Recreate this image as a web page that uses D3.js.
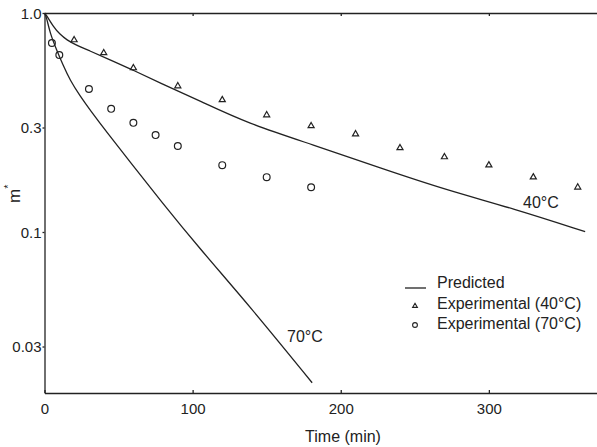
<!DOCTYPE html>
<html>
<head>
<meta charset="utf-8">
<script src="https://cdn.jsdelivr.net/npm/d3@7"></script>
<style>
  body { margin: 0; background: #fff; }
  svg text { font-family: "Liberation Sans", Arial, sans-serif; fill: #222; }
</style>
</head>
<body>
<div class="chart"></div>
<script>
// DATA ------------------------------------
const exp40Time = [20, 40, 60, 90, 120, 150, 180, 210, 240, 270, 300, 330, 360]
const exp40Val = [0.753, 0.657, 0.561, 0.464, 0.401, 0.342, 0.305, 0.280, 0.242, 0.220, 0.202, 0.178, 0.160]

const exp70Time = [5, 10, 30, 45, 60, 75, 90, 120, 150, 180]
const exp70Val = [0.730, 0.643, 0.450, 0.365, 0.315, 0.277, 0.247, 0.202, 0.178, 0.160]

const pred40Time = [0, 1.7, 5.7, 10.5, 15.2, 20.6, 30.7, 40.9, 59.8, 78, 105, 136.8, 181.4, 226.7, 272, 316.6, 365]
const pred40Val = [1.0, 0.969, 0.872, 0.797, 0.753, 0.718, 0.671, 0.626, 0.549, 0.479, 0.397, 0.314, 0.250, 0.196, 0.155, 0.128, 0.1003]

const pred70Time = [0, 1.5, 3.7, 8.2, 12.5, 17.2, 24, 30.7, 43, 57.8, 78, 105, 139, 180.7]
const pred70Val = [1.0, 0.949, 0.810, 0.678, 0.579, 0.494, 0.418, 0.361, 0.280, 0.209, 0.140, 0.0836, 0.0455, 0.0205]

const xTicks = [0, 100, 200, 300]
const yTicks = [1.0, 0.3, 0.1, 0.03]
const yTickLabels = ['1.0', '0.3', '0.1', '0.03']

const legendLabels = ['Predicted', 'Experimental (40\u00B0C)', 'Experimental (70\u00B0C)']

// CHART INIT ------------------------------
const W = 597, H = 447
const plot = { left: 44.5, right: 597, top: 13, bottom: 393 }
const ink = '#222'

const svg = d3.select('.chart')
    .append('svg')
    .attr('width', W)
    .attr('height', H)

const xScale = d3.scaleLinear()
    .domain([0, 373])
    .range([plot.left, plot.right])

const yScale = d3.scaleLog()
    .domain([0.0184, 1])
    .range([plot.bottom, plot.top])

// axes
const xAxis = d3.axisBottom(xScale)
    .tickValues(xTicks)
    .tickFormat(d3.format('d'))
    .tickSizeInner(-3)
    .tickSizeOuter(0)
    .tickPadding(10)

const yAxis = d3.axisLeft(yScale)
    .tickValues(yTicks)
    .tickFormat((d, i) => yTickLabels[i])
    .tickSizeInner(2)
    .tickSizeOuter(0)
    .tickPadding(1)

const topAxis = d3.axisTop(xScale)
    .tickValues(xTicks.slice(1))
    .tickFormat('')
    .tickSizeInner(-3)
    .tickSizeOuter(0)

svg.append('g')
    .attr('class', 'axis x-axis')
    .attr('transform', `translate(0, ${plot.bottom})`)
    .call(xAxis)

svg.append('g')
    .attr('class', 'axis top-axis')
    .attr('transform', `translate(0, ${plot.top})`)
    .call(topAxis)

svg.append('g')
    .attr('class', 'axis y-axis')
    .attr('transform', `translate(${plot.left}, 0)`)
    .call(yAxis)

svg.selectAll('.axis path, .axis line')
    .attr('stroke', ink)
    .attr('stroke-width', 1.3)

svg.selectAll('.axis text')
    .attr('fill', ink)
    .style('font-size', '15px')

svg.selectAll('.y-axis text').attr('dy', '0.36em')

// axis titles
svg.append('text')
    .attr('x', 343)
    .attr('y', 442)
    .attr('text-anchor', 'middle')
    .style('font-size', '16px')
    .text('Time (min)')

const yLabel = svg.append('text')
    .attr('transform', 'translate(20, 203) rotate(-90)')
    .style('font-size', '17px')
yLabel.append('tspan').text('m')
yLabel.append('tspan')
    .attr('dy', -8)
    .style('font-size', '11px')
    .text('*')

// predicted lines
const line = d3.line()
    .x(d => xScale(d[0]))
    .y(d => yScale(d[1]))
    .curve(d3.curveBasis)

const pred40 = pred40Time.map((t, i) => [t, pred40Val[i]])
const pred70 = pred70Time.map((t, i) => [t, pred70Val[i]])

svg.selectAll('.pred')
    .data([pred40, pred70])
    .enter()
    .append('path')
    .attr('class', 'pred')
    .attr('d', line)
    .attr('fill', 'none')
    .attr('stroke', ink)
    .attr('stroke-width', 1.3)

// experimental points
const tri = d3.symbol().type(d3.symbolTriangle).size(16)

svg.selectAll('.tri')
    .data(exp40Time.map((t, i) => [t, exp40Val[i]]))
    .enter()
    .append('path')
    .attr('class', 'tri')
    .attr('d', tri)
    .attr('transform', d => `translate(${xScale(d[0])}, ${yScale(d[1])})`)
    .attr('fill', 'none')
    .attr('stroke', ink)
    .attr('stroke-width', 1.2)

svg.selectAll('.circ')
    .data(exp70Time.map((t, i) => [t, exp70Val[i]]))
    .enter()
    .append('circle')
    .attr('class', 'circ')
    .attr('cx', d => xScale(d[0]))
    .attr('cy', d => yScale(d[1]))
    .attr('r', 3.4)
    .attr('fill', 'none')
    .attr('stroke', ink)
    .attr('stroke-width', 1.2)

// curve labels
svg.append('text')
    .attr('x', 523)
    .attr('y', 208)
    .style('font-size', '16px')
    .text('40\u00B0C')

svg.append('text')
    .attr('x', 287)
    .attr('y', 342)
    .style('font-size', '16px')
    .text('70\u00B0C')

// LEGEND ----------------------------------
const legend = svg.append('g')

legend.append('line')
    .attr('x1', 405).attr('x2', 426)
    .attr('y1', 288).attr('y2', 288)
    .attr('stroke', ink)
    .attr('stroke-width', 1.3)

legend.append('path')
    .attr('d', d3.symbol().type(d3.symbolTriangle).size(10))
    .attr('transform', 'translate(415, 306)')
    .attr('fill', 'none')
    .attr('stroke', ink)
    .attr('stroke-width', 1.1)

legend.append('circle')
    .attr('cx', 415).attr('cy', 325)
    .attr('r', 2.4)
    .attr('fill', 'none')
    .attr('stroke', ink)
    .attr('stroke-width', 1.1)

legend.selectAll('.leg-text')
    .data(legendLabels)
    .enter()
    .append('text')
    .attr('class', 'leg-text')
    .attr('x', 437)
    .attr('y', (d, i) => 288 + i * 20.5)
    .style('font-size', '16px')
    .text(d => d)
</script>
</body>
</html>
